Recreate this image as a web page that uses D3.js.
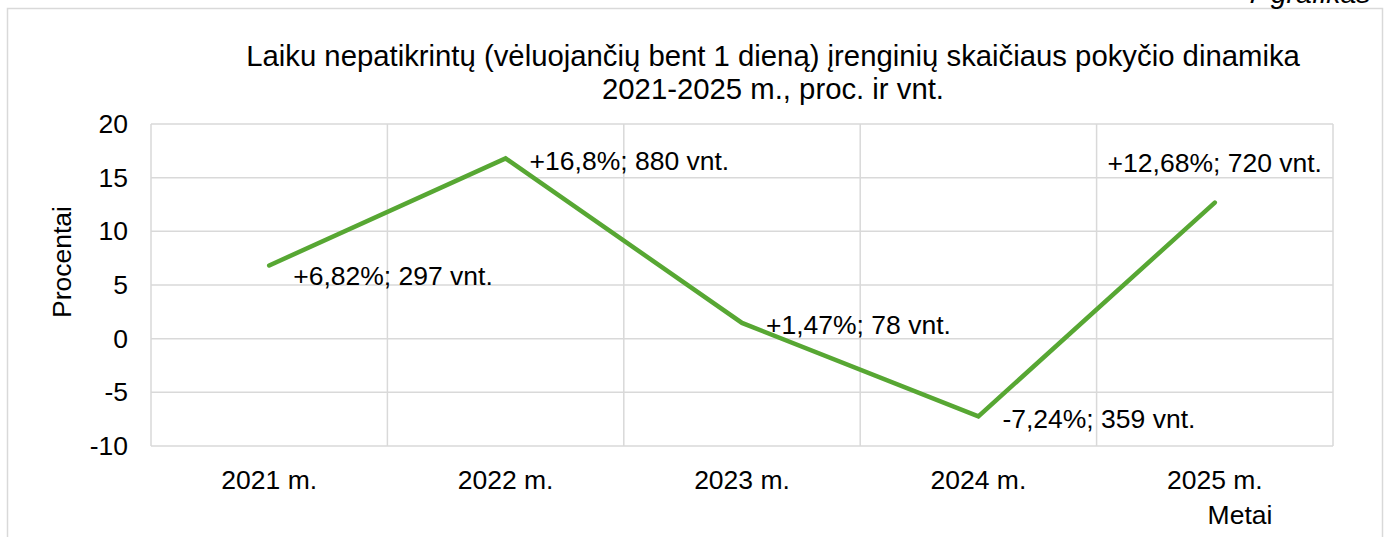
<!DOCTYPE html>
<html><head><meta charset="utf-8">
<script src="https://cdn.jsdelivr.net/npm/d3@7"></script>
<style>body{margin:0;background:#fff}svg{display:block;font-family:"Liberation Sans",Arial,sans-serif}</style>
</head><body>
<svg id="c" width="1388" height="537"></svg>
<script>
const categories = ["2021 m.","2022 m.","2023 m.","2024 m.","2025 m."];
const percentValues = [6.82, 16.8, 1.47, -7.24, 12.68];
const unitCounts = [297, 880, 78, 359, 720];
const dataLabels = ["+6,82%; 297 vnt.","+16,8%; 880 vnt.","+1,47%; 78 vnt.","-7,24%; 359 vnt.","+12,68%; 720 vnt."];
const yTicks = [-10,-5,0,5,10,15,20];
const titleLines = ["Laiku nepatikrintų (vėluojančių bent 1 dieną) įrenginių skaičiaus pokyčio dinamika","2021-2025 m., proc. ir vnt."];

const svg = d3.select("#c");
const L=151, R=1333, T=124, B=446;
const grid="#d9d9d9";
const FS=26.5, FF="Liberation Sans, Arial, sans-serif";

// outer border
svg.append("path").attr("d","M7.5,537 V8.5 H1382.5 V537").attr("fill","none").attr("stroke",grid).attr("stroke-width",1.5);
// cut-off caption
svg.append("text").attr("x",1247).attr("y",3).attr("font-size",28.5).attr("font-style","italic").attr("fill","#000").text("7 grafikas");

const x = d3.scaleBand().domain(categories).range([L,R]).padding(0);
const y = d3.scaleLinear().domain([-10,20]).range([B,T]);

// horizontal gridlines
svg.append("g").selectAll("line").data(yTicks).join("line")
  .attr("x1",L).attr("x2",R).attr("y1",d=>y(d)).attr("y2",d=>y(d))
  .attr("stroke",grid).attr("stroke-width",1.5);
// vertical gridlines at category boundaries
const bounds = categories.map(c=>x(c)).concat([R]);
svg.append("g").selectAll("line").data(bounds).join("line")
  .attr("x1",d=>d).attr("x2",d=>d).attr("y1",T).attr("y2",B)
  .attr("stroke",grid).attr("stroke-width",1.5);

// y axis
const ya = svg.append("g").attr("transform",`translate(${L},0)`)
  .call(d3.axisLeft(y).tickValues(yTicks).tickSize(0).tickPadding(23).tickFormat(d=>String(d)));
ya.select(".domain").remove();
ya.selectAll("text").attr("font-size",FS).attr("fill","#000").attr("font-family",FF);

// x axis
const xa = svg.append("g").attr("transform",`translate(0,${B})`)
  .call(d3.axisBottom(x).tickSize(0));
xa.select(".domain").remove();
xa.selectAll("text").attr("y",34).attr("dy","0.35em").attr("font-size",FS).attr("fill","#000").attr("font-family",FF);

// line
const pts = categories.map((c,i)=>[x(c)+x.bandwidth()/2, y(percentValues[i])]);
svg.append("path").datum(pts).attr("d",d3.line()).attr("fill","none")
  .attr("stroke","#57a733").attr("stroke-width",4.5).attr("stroke-linejoin","miter").attr("stroke-linecap","round");

// data labels
const last = categories.length-1;
svg.append("g").selectAll("text").data(dataLabels).join("text")
  .attr("x",(d,i)=> i===last ? pts[i][0] : pts[i][0]+24)
  .attr("y",(d,i)=> i===last ? pts[i][1]-40 : pts[i][1] + (i===0?10:2))
  .attr("dy","0.35em")
  .attr("text-anchor",(d,i)=> i===last ? "middle" : "start")
  .attr("font-size",FS).attr("fill","#000").text(d=>d);

// title
svg.append("g").selectAll("text").data(titleLines).join("text")
  .attr("x",773).attr("y",(d,i)=>56+i*33).attr("dy","0.35em")
  .attr("text-anchor","middle").attr("font-size",29.3).attr("fill","#000").text(d=>d);

// axis titles
svg.append("text").attr("transform","translate(62,262) rotate(-90)").attr("dy","0.35em")
  .attr("text-anchor","middle").attr("font-size",FS).attr("fill","#000").text("Procentai");
svg.append("text").attr("x",1240).attr("y",515).attr("dy","0.35em")
  .attr("text-anchor","middle").attr("font-size",FS).attr("fill","#000").text("Metai");
</script>
</body></html>
